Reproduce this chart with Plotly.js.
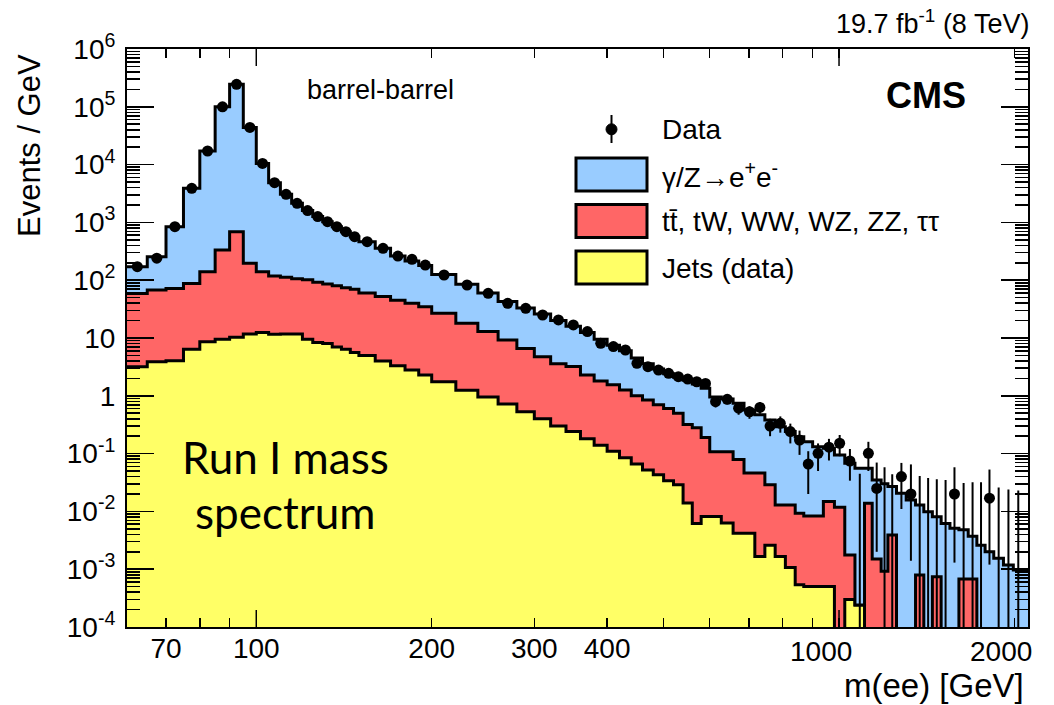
<!DOCTYPE html>
<html><head><meta charset="utf-8">
<script src="https://cdn.plot.ly/plotly-3.0.1.min.js"></script>
<style>html,body{margin:0;padding:0;background:#fff;} #chart{width:1054px;height:705px;}</style>
</head><body><div id="chart"></div>
<script>
// ---- data ----
const binEdges = [60,65,70,75,80,85,90,95,100,105,110,115,120,125,130,135,140,145,150,160,170,180,190,200,
  220,240,260,280,300,320,340,360,380,400,420,440,460,480,500,520,540,560,580,600,
  628,658,687,717,746,777,809,841,870,901,940,982,1023,1065,1106,1140,1181,1213,1255,1304,
  1353,1398,1446,1497,1550,1606,1666,1724,1781,1843,1915,1991,2070,2150];

// observed events / GeV (0 = empty bin)
const dataValues = [171,240,843,3890,17200,100000,245000,44000,
  10500,4860,3060,2140,1600,1260,1030,843,690,566,
  464,356,262,230,183,
  123,82.6,59.3,39.8,32.6,25,20.5,16.8,12.9,8.1,
  7.1,6.2,3.65,3.19,2.79,2.45,2.14,1.95,1.75,1.64,
  0.79,0.87,0.61,0.53,0.63,0.30,0.334,0.24,0.172,0.066,
  0.101,0.129,0.151,0.0745,0,0.101,0.025,0,0,0.040,
  0.020,0,0,0,0,0.020,0,0,0,0.0169,
  0,0,0,0];
// error bar ends (null = hidden under marker, 0 = reaches below axis)
const dataErrLow = [null,null,null,null,null,null,null,null,null,null,null,null,null,null,null,null,null,null,
  null,null,null,null,null,null,null,null,null,null,null,null,null,null,null,null,null,null,null,null,null,null,null,null,null,
  0.63,0.71,0.47,0.40,0.49,0.20,0.23,0.15,0.095,0.02,
  0.05,0.076,0.09,0.034,0,0.05,0.002,0,0,0.011,
  0.0014,0,0,0,0,0.0013,0,0,0,0.0012,
  0,0,0,null];
const dataErrHigh = [null,null,null,null,null,null,null,null,null,null,null,null,null,null,null,null,null,null,
  null,null,null,null,null,null,null,null,null,null,null,null,null,null,null,null,null,null,null,null,null,null,null,null,null,
  0.96,1.04,0.76,0.66,0.78,0.40,0.44,0.33,0.25,0.11,
  0.15,0.18,0.21,0.12,0.045,0.16,0.07,0.058,0.044,0.069,
  0.065,0.041,0.038,0.036,0.035,0.058,0.031,0.032,0.032,0.053,
  0.026,0.024,0.023,null];

// stacked histogram tops (events / GeV)
const stackDYTop = [171,255,843,3890,17200,100000,245000,44000,
  10500,4860,3060,2140,1600,1260,1030,843,690,566,
  464,356,262,215,180,
  125,85,60,43,33,26,20,16,12.5,9.5,
  7.5,6.0,4.5,3.6,2.9,2.4,2.1,1.85,1.6,1.35,
  0.95,0.88,0.74,0.57,0.47,0.38,0.29,0.24,0.196,0.16,
  0.132,0.124,0.095,0.068,0.056,0.056,0.035,0.030,0.027,0.0206,
  0.0157,0.0129,0.0099,0.0081,0.0062,0.0051,0.0048,0.0037,0.0026,0.0020,
  0.00154,0.00118,0.00097,0.00097];
const stackTTTop = [59,68,72,88,140,333,690,196,
  140,118,112,106,102,92,86,80,74,70,
  60,52,45,40,34.7,
  26.7,18,12.9,9.2,6.6,4.75,3.6,3.2,2.3,1.8,
  1.55,1.26,1.0,0.85,0.7,0.6,0.5,0.32,0.28,0.19,
  0.108,0.108,0.079,0.046,0.046,0.029,0.0129,0.0129,0.0093,0.0083,
  0.0083,0.0148,0.0118,0.00176,0.00024,0.0138,0.0015,0.00092,0.0039,0,
  0,0.00079,0,0.00074,0,0,0.00068,0.00068,0,0,
  0,0,0,0];
const stackJetsTop = [3.18,3.89,4.05,6.37,8.63,9.5,10.3,11.7,
  12.5,11.6,11.7,11.7,9.5,8.4,8.0,7.0,6.4,5.6,
  5.0,4.0,3.3,2.8,2.3,
  1.75,1.25,0.95,0.72,0.53,0.40,0.30,0.24,0.18,0.14,
  0.11,0.085,0.066,0.052,0.043,0.034,0.029,0.014,0.0062,0.0082,
  0.0082,0.0063,0.0042,0.0042,0.00166,0.0026,0.00166,0.00107,0.00054,0.0005,
  0.0005,0.0005,0,0.0003,0.00024,0,0,0,0,0,
  0,0,0,0,0,0,0,0,0,0,
  0,0,0,0];

const xTickVals = [70,100,200,300,400,1000,2000];
const xTickText = ['70','100','200','300','400','1000','2000'];
const yTickVals = [1e-4,1e-3,1e-2,1e-1,1,10,1e2,1e3,1e4,1e5,1e6];
const yTickText = ['10<sup>-4</sup>','10<sup>-3</sup>','10<sup>-2</sup>','10<sup>-1</sup>','1','10',
  '10<sup>2</sup>','10<sup>3</sup>','10<sup>4</sup>','10<sup>5</sup>','10<sup>6</sup>'];

// ---- build ----
const FLOOR = 1e-7;
const XMIN = 60, XMAX = 2110;
function stepTrace(vals, fill, fillcolor){
  const y = vals.map(v => v > 0 ? v : FLOOR);
  y.push(y[y.length-1]);
  return {x: binEdges.slice(), y: y, mode:'lines', line:{shape:'hv', color:'black', width:3},
    fill: fill, fillcolor: fillcolor, hoverinfo:'skip', showlegend:false};
}
const centers = binEdges.slice(0,-1).map((e,i)=>(e+binEdges[i+1])/2);
const mx=[], my=[];
dataValues.forEach((v,i)=>{ if(v>0 && centers[i]<XMAX){ mx.push(centers[i]); my.push(v);} });
const ex=[], ey=[];
dataErrHigh.forEach((h,i)=>{
  if(h===null || centers[i]>=XMAX) return;
  const l = dataErrLow[i] > 0 ? dataErrLow[i] : FLOOR;
  ex.push(centers[i],centers[i],null); ey.push(l,h,null);
});

const traces = [
  stepTrace(stackJetsTop,'tozeroy','#ffff66'),
  stepTrace(stackTTTop,'tonexty','#ff6666'),
  stepTrace(stackDYTop,'tonexty','#99ccff'),
  {x:ex, y:ey, mode:'lines', line:{color:'black', width:2}, hoverinfo:'skip', showlegend:false, connectgaps:false},
  {x:mx, y:my, mode:'markers', marker:{color:'black', size:11, symbol:'circle'}, hoverinfo:'skip', showlegend:false}
];

// minor ticks
const xMinor = [60,80,90,500,600,700,800,900];
const yMinor = [];
for(let d=-4; d<6; d++) for(let k=2;k<10;k++) yMinor.push(k*Math.pow(10,d));

// pixel -> paper helpers
const L=127, R=1028, T=49, B=627;
const px = x => (x-L)/(R-L);
const py = y => (B-y)/(B-T);

const shapes = [];
// longer ticks at 100 and 1000 (bottom and top)
[100,1000].forEach(v=>{
  shapes.push({type:'line', xref:'x', yref:'paper', x0:v, x1:v, y0:0, y1:py(610), line:{color:'black', width:1.5}});
  shapes.push({type:'line', xref:'x', yref:'paper', x0:v, x1:v, y0:1, y1:py(66), line:{color:'black', width:1.5}});
});
// legend boxes
const boxes = [['#99ccff',158,191],['#ff6666',204.5,237.5],['#ffff66',251,284]];
boxes.forEach(b=>shapes.push({type:'rect', xref:'paper', yref:'paper', x0:px(576), x1:px(647), y0:py(b[2]), y1:py(b[1]),
  fillcolor:b[0], line:{color:'black', width:3}}));
// legend data marker
shapes.push({type:'line', xref:'paper', yref:'paper', x0:px(611.5), x1:px(611.5), y0:py(143), y1:py(115), line:{color:'black', width:2}});
shapes.push({type:'circle', xref:'paper', yref:'paper', x0:px(606), x1:px(617), y0:py(134.8), y1:py(123.8), fillcolor:'black', line:{color:'black', width:1}});

const F = 'Liberation Sans, Arial, sans-serif';
const ann = (x,y,text,size,opts={}) => Object.assign({xref:'paper', yref:'paper', x:px(x), y:py(y), text:text, showarrow:false,
  font:{family:F, size:size, color:'black'}, xanchor:'left', yanchor:'middle'}, opts);
const annotations = [
  ann(1031,22,'19.7 fb<sup>-1</sup> (8 TeV)',27,{xanchor:'right'}),
  ann(926,95,'<b>CMS</b>',36,{xanchor:'center'}),
  ann(380,90,'barrel-barrel',27,{xanchor:'center'}),
  ann(660,129,'Data',28),
  ann(660,175,'γ/Z→e<sup>+</sup>e<sup>-</sup>',28),
  ann(660,221,'tt\u0304, tW, WW, WZ, ZZ, ττ',28),
  ann(660,268,'Jets (data)',28),
  ann(285,457,'Run I mass',44,{xanchor:'center', font:{family:'Lato, Open Sans, sans-serif', size:44, color:'black'}}),
  ann(285,512,'spectrum',44,{xanchor:'center', font:{family:'Lato, Open Sans, sans-serif', size:44, color:'black'}}),
  ann(29,146,'Events / GeV',31,{xanchor:'center', textangle:-90}),
  ann(1026,685,'m(ee) [GeV]',33,{xanchor:'right'}),
  // last two x labels sit left of their ticks, as in the reference
  {xref:'x', yref:'paper', x:Math.log10(1000), y:py(651), xshift:-18, text:'1000', showarrow:false,
    font:{family:F, size:28, color:'black'}, xanchor:'center', yanchor:'middle'},
  {xref:'x', yref:'paper', x:Math.log10(2000), y:py(651), xshift:-13, text:'2000', showarrow:false,
    font:{family:F, size:28, color:'black'}, xanchor:'center', yanchor:'middle'}
];

const layout = {
  width:1054, height:705,
  margin:{l:L, r:1054-R, t:T, b:705-B, pad:0},
  paper_bgcolor:'white', plot_bgcolor:'white',
  showlegend:false,
  font:{family:F, color:'black'},
  xaxis:{type:'log', range:[Math.log10(XMIN), Math.log10(XMAX)], tickmode:'array', tickvals:xTickVals,
    ticktext:xTickText.map(t => (t==='1000'||t==='2000') ? ' ' : t),
    ticks:'inside', ticklen:9, tickwidth:1.5, tickcolor:'black', showline:true, linewidth:2, linecolor:'black', mirror:'ticks',
    showgrid:false, zeroline:false, tickfont:{family:F, size:28, color:'black'}, ticklabelstandoff:-5,
    minor:{tickmode:'array', tickvals:xMinor, ticks:'inside', ticklen:9, tickwidth:1.5, tickcolor:'black', showgrid:false}},
  yaxis:{type:'log', range:[-4,6], tickmode:'array', tickvals:yTickVals, ticktext:yTickText,
    ticks:'inside', ticklen:27, tickwidth:1.5, tickcolor:'black', showline:true, linewidth:2, linecolor:'black', mirror:'ticks',
    showgrid:false, zeroline:false, tickfont:{family:F, size:28, color:'black'}, ticklabelstandoff:4,
    minor:{tickmode:'array', tickvals:yMinor, ticks:'inside', ticklen:13, tickwidth:1.5, tickcolor:'black', showgrid:false}},
  shapes:shapes,
  annotations:annotations
};
Plotly.newPlot('chart', traces, layout, {displayModeBar:false, staticPlot:true});
</script></body></html>
